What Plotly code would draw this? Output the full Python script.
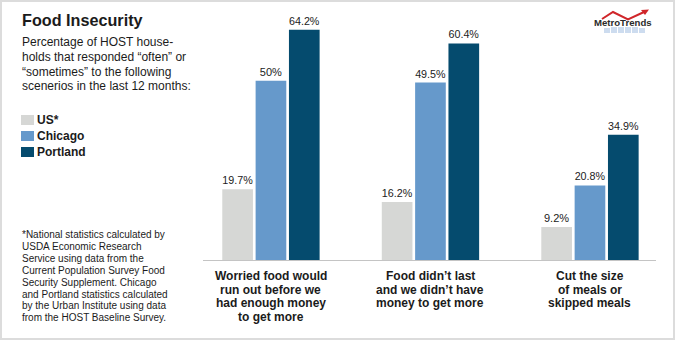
import plotly.graph_objects as go

# ---- data ----
categories = ["Worried food would run out", "Food didn't last", "Cut the size of meals"]
category_lines = [
    ["Worried food would", "run out before we", "had enough money", "to get more"],
    ["Food didn\u2019t last", "and we didn\u2019t have", "money to get more"],
    ["Cut the size", "of meals or", "skipped meals"],
]
series_names = ["US*", "Chicago", "Portland"]
us_values = [19.7, 16.2, 9.2]
chicago_values = [50, 49.5, 20.8]
portland_values = [64.2, 60.4, 34.9]
series_colors = ["#d6d7d5", "#6699cb", "#054b6e"]

title_text = "Food Insecurity"
subtitle_lines = [
    "Percentage of HOST house-",
    "holds that responded \u201coften\u201d or",
    "\u201csometimes\u201d to the following",
    "scenerios in the last 12 months:",
]
footnote_lines = [
    "*National statistics calculated by",
    "USDA Economic Research",
    "Service using data from the",
    "Current Population Survey Food",
    "Security Supplement. Chicago",
    "and Portland statistics calculated",
    "by the Urban Institute using data",
    "from the HOST Baseline Survey.",
]

# ---- layout geometry (pixels) ----
W, H = 675, 340
L, R, T, B = 203, 19, 9, 80
PW, PH = W - L - R, H - T - B
FONT = "Liberation Sans, Arial, Helvetica, sans-serif"
TXT = "#1b1b1b"


def px(x):
    return (x - L) / PW


def py(y):
    return (H - B - y) / PH


fig = go.Figure()
xs = list(range(len(categories)))
for name, vals, col in zip(series_names, [us_values, chicago_values, portland_values], series_colors):
    fig.add_trace(go.Bar(
        x=xs, y=vals, name=name, marker=dict(color=col, line=dict(width=0)),
        text=[f"{v:g}%" for v in vals], textposition="outside", cliponaxis=False,
        textfont=dict(family=FONT, size=11, color=TXT), showlegend=False,
    ))

ann = []
shapes = []


def line_text(text, x, baseline, size, bold=False, anchor="left", xref="paper", color=TXT):
    t = f"<b>{text}</b>" if bold else text
    ann.append(dict(text=t, x=x, xref=xref, y=py(baseline - 0.35 * size), yref="paper",
                    xanchor=anchor, yanchor="middle", showarrow=False, borderpad=0,
                    font=dict(family=FONT, size=size, color=color)))


# title and subtitle
line_text(title_text, px(21), 26, 16.2, bold=True)
for i, s in enumerate(subtitle_lines):
    line_text(s, px(21), 46.5 + i * 14.6, 12)

# legend (manual)
for i, (name, col) in enumerate(zip(series_names, series_colors)):
    yc = 120 + i * 16
    shapes.append(dict(type="rect", xref="paper", yref="paper", x0=px(21), x1=px(34),
                       y0=py(yc - 5), y1=py(yc + 5), fillcolor=col, line=dict(width=0)))
    line_text(name, px(36), yc + 4.5, 12, bold=True)

# footnote
for i, s in enumerate(footnote_lines):
    line_text(s, px(21), 238.3 + i * 11.85, 10)

# category labels
for ci, lines in enumerate(category_lines):
    for li, s in enumerate(lines):
        line_text(s, ci, 280 + li * 13.7, 12, bold=True, anchor="center", xref="x")

# logo
line_text("MetroTrends", px(622.5), 25.7, 9.6, bold=True, anchor="center", color="#2a2a2a")
for j, (x0, h) in enumerate([(604, 5), (611, 6), (618, 6), (625, 6), (632, 6), (639, 5)]):
    shapes.append(dict(type="rect", xref="paper", yref="paper", x0=px(x0), x1=px(x0 + 6),
                       y0=py(33), y1=py(33 - h), fillcolor="#cddcef", line=dict(width=0),
                       layer="below"))
pts = [(602, 19), (613, 12), (628, 19.5), (644, 12)]
path = "M " + " L ".join(f"{px(a)},{py(b)}" for a, b in pts)
shapes.append(dict(type="path", xref="paper", yref="paper", path=path,
                   line=dict(color="#d0262a", width=2)))
tri = [(649, 9.5), (641, 10), (645, 15)]
shapes.append(dict(type="path", xref="paper", yref="paper",
                   path="M " + " L ".join(f"{px(a)},{py(b)}" for a, b in tri) + " Z",
                   fillcolor="#d0262a", line=dict(width=0)))

# outer border
shapes.append(dict(type="rect", xref="paper", yref="paper", x0=px(1), x1=px(W - 1),
                   y0=py(1), y1=py(H - 1), line=dict(color="#dcdcdc", width=2)))

fig.update_layout(
    width=W, height=H, margin=dict(l=L, r=R, t=T, b=B, pad=0),
    paper_bgcolor="white", plot_bgcolor="white",
    barmode="group", bargap=0.373, bargroupgap=0.08,
    xaxis=dict(range=[-0.426, 2.414], showticklabels=False, ticks="", showgrid=False,
               zeroline=False, showline=True, linecolor="#c4c4c4", linewidth=1, fixedrange=True),
    yaxis=dict(range=[0, 70], visible=False, fixedrange=True),
    annotations=ann, shapes=shapes, showlegend=False,
)

fig.write_html("out.html")
